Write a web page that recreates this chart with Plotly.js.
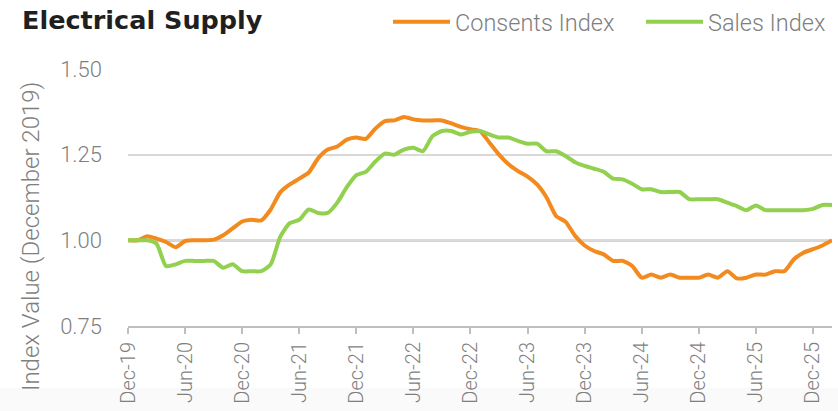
<!DOCTYPE html>
<html>
<head>
<meta charset="utf-8">
<script src="https://cdn.plot.ly/plotly-3.0.1.min.js"></script>
<style>html,body{margin:0;padding:0;background:#fff;}#chart{width:838px;height:411px;}</style>
</head>
<body>
<div id="chart"></div>
<script>
const months = [
  "Dec-19","Jan-20","Feb-20","Mar-20","Apr-20","May-20","Jun-20","Jul-20","Aug-20","Sep-20","Oct-20","Nov-20",
  "Dec-20","Jan-21","Feb-21","Mar-21","Apr-21","May-21","Jun-21","Jul-21","Aug-21","Sep-21","Oct-21","Nov-21",
  "Dec-21","Jan-22","Feb-22","Mar-22","Apr-22","May-22","Jun-22","Jul-22","Aug-22","Sep-22","Oct-22","Nov-22",
  "Dec-22","Jan-23","Feb-23","Mar-23","Apr-23","May-23","Jun-23","Jul-23","Aug-23","Sep-23","Oct-23","Nov-23",
  "Dec-23","Jan-24","Feb-24","Mar-24","Apr-24","May-24","Jun-24","Jul-24","Aug-24","Sep-24","Oct-24","Nov-24",
  "Dec-24","Jan-25","Feb-25","Mar-25","Apr-25","May-25","Jun-25","Jul-25","Aug-25","Sep-25","Oct-25","Nov-25",
  "Dec-25","Jan-26","Feb-26"
];
const consentsIndex = [
  1.000,1.000,1.012,1.005,0.995,0.980,0.998,1.000,1.000,1.002,1.015,1.035,
  1.055,1.060,1.058,1.090,1.140,1.163,1.180,1.198,1.240,1.265,1.274,1.294,
  1.300,1.296,1.326,1.348,1.350,1.360,1.353,1.350,1.350,1.350,1.341,1.331,
  1.324,1.319,1.285,1.250,1.222,1.202,1.186,1.163,1.125,1.071,1.054,1.013,
  0.985,0.969,0.959,0.940,0.940,0.925,0.891,0.900,0.891,0.900,0.891,0.891,
  0.891,0.900,0.891,0.910,0.889,0.891,0.900,0.900,0.910,0.910,0.945,0.964,
  0.974,0.985,1.000
];
const salesIndex = [
  1.000,1.000,1.000,0.990,0.925,0.930,0.940,0.940,0.940,0.940,0.920,0.930,
  0.910,0.910,0.910,0.930,1.010,1.050,1.060,1.090,1.080,1.080,1.110,1.155,
  1.190,1.200,1.230,1.253,1.250,1.265,1.270,1.260,1.304,1.319,1.319,1.309,
  1.317,1.319,1.309,1.300,1.300,1.290,1.282,1.282,1.260,1.260,1.246,1.228,
  1.217,1.209,1.200,1.180,1.178,1.165,1.149,1.149,1.141,1.141,1.141,1.120,
  1.120,1.120,1.120,1.110,1.100,1.088,1.102,1.088,1.088,1.088,1.088,1.088,
  1.092,1.103,1.103
];
const tickLabels = ["Dec-19","Jun-20","Dec-20","Jun-21","Dec-21","Jun-22","Dec-22","Jun-23","Dec-23","Jun-24","Dec-24","Jun-25","Dec-25"];
const yTicks = [0.75, 1.00, 1.25, 1.50];

const gray = '#7f7f7f';
const lightFont = 'Roboto, sans-serif';
const traces = [
  {x: months, y: consentsIndex, name: 'Consents Index', type: 'scatter', mode: 'lines', legend: 'legend',
   line: {color: '#F28A1E', width: 4, shape: 'spline', smoothing: 0.6}},
  {x: months, y: salesIndex, name: 'Sales Index', type: 'scatter', mode: 'lines', legend: 'legend2',
   line: {color: '#92D050', width: 4, shape: 'spline', smoothing: 0.6}}
];
const legendStyle = (px) => ({
  orientation: 'h', x: (px-128)/704, xanchor: 'left', y: (326-22)/257, yanchor: 'middle',
  font: {family: lightFont, size: 23.5, color: gray, weight: 300}, itemwidth: 57,
  bgcolor: 'rgba(0,0,0,0)'
});
const layout = {
  width: 838, height: 411,
  margin: {l: 128, r: 6, t: 69, b: 85, autoexpand: false},
  paper_bgcolor: '#ffffff', plot_bgcolor: '#ffffff',
  font: {family: lightFont, color: gray, weight: 300},
  title: {text: 'Electrical Supply', x: 22/838, xref: 'container', xanchor: 'left',
          y: 1 - 20/411, yref: 'container', yanchor: 'middle',
          font: {family: 'DejaVu Sans, sans-serif', size: 25.5, color: '#1f1f1f', weight: 700}},
  showlegend: true,
  legend: legendStyle(388),
  legend2: legendStyle(641),
  xaxis: {type: 'category', range: [0, months.length - 1], tickvals: tickLabels, ticktext: tickLabels,
          tickangle: -90, tickfont: {family: lightFont, size: 20, color: gray, weight: 300},
          ticks: 'outside', ticklen: 6,
          tickwidth: 2, tickcolor: '#bfbfbf', showline: true, linecolor: '#bfbfbf', linewidth: 2,
          showgrid: false, zeroline: false, fixedrange: true},
  yaxis: {range: [0.75, 1.5], tickvals: yTicks, tickformat: '.2f',
          tickfont: {family: lightFont, size: 22, color: gray, weight: 300},
          ticklabelstandoff: 25, showgrid: true, gridcolor: '#d9d9d9', gridwidth: 2, zeroline: false,
          showline: false, ticks: ''},
  annotations: [
    {text: 'Index Value (December 2019)', xref: 'paper', yref: 'paper',
     x: (31-128)/704, y: (326-237)/257, xanchor: 'center', yanchor: 'middle', textangle: -90,
     showarrow: false, font: {family: lightFont, size: 24, color: gray, weight: 300}}
  ],
  shapes: [
    {type: 'rect', xref: 'paper', yref: 'paper', x0: -0.2, x1: 1.02, y0: -0.33, y1: -0.24,
     fillcolor: '#fafafa', line: {width: 0}, layer: 'below'},
    {type: 'line', xref: 'paper', yref: 'y', x0: 0, x1: 1, y0: 1, y1: 1,
     line: {color: '#595959', width: 2}, layer: 'below'}
  ]
};
Plotly.newPlot('chart', traces, layout, {displayModeBar: false, staticPlot: true});
</script>
</body>
</html>
